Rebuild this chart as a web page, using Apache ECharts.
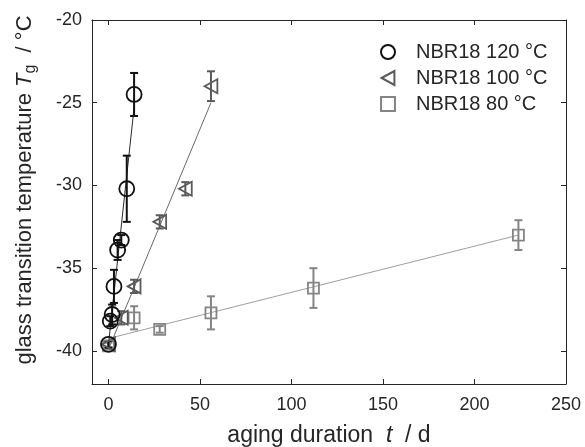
<!DOCTYPE html>
<html>
<head>
<meta charset="utf-8">
<script src="https://cdn.jsdelivr.net/npm/echarts@6/dist/echarts.min.js"></script>
<style>html,body{margin:0;padding:0;background:#fff;}#c{width:585px;height:447px;}</style>
</head>
<body>
<div id="c"></div>
<script>
// ---- data ----
const xTicks = [0, 50, 100, 150, 200, 250];
const yTicks = [-40, -35, -30, -25, -20];

const days120 = [0, 1, 2, 3, 5, 7, 10, 14];
const tg120   = [-39.6, -38.2, -37.8, -36.1, -33.9, -33.3, -30.2, -24.5];
const err120  = [0.2, 0.3, 0.6, 1.0, 0.6, 0.3, 2.0, 1.3];

const days100 = [0, 7, 14, 28, 42, 56];
const tg100   = [-39.6, -38.0, -36.1, -32.2, -30.2, -24.0];
const err100  = [0.2, 0.4, 0.4, 0.4, 0.4, 0.9];

const days80 = [0, 14, 28, 56, 112, 224];
const tg80   = [-39.7, -38.0, -38.7, -37.7, -36.2, -33.0];
const err80  = [0.2, 0.7, 0.2, 1.0, 1.2, 0.9];

// fitted lines (end points)
const fitX120 = [0, 14];   const fitY120 = [-39.6, -25.3];
const fitX100 = [0, 56];   const fitY100 = [-39.9, -25.0];
const fitX80  = [0, 224];  const fitY80  = [-39.25, -33.0];

const names = ['NBR18 120 °C', 'NBR18 100 °C', 'NBR18 80 °C'];

// ---- helpers ----
const zip = (a, b) => a.map((v, i) => [v, b[i]]);
const zip3 = (a, b, c) => a.map((v, i) => [v, b[i], c[i]]);
const FONT = 'Liberation Sans, Arial, Helvetica, sans-serif';
const TXT = '#262626';

function errSeries(data, color, lw) {
  return {
    type: 'custom',
    data: data,
    z: 3,
    silent: true,
    renderItem: function (params, api) {
      const x = api.value(0), y = api.value(1), e = api.value(2);
      const t = api.coord([x, y + e]);
      const b = api.coord([x, y - e]);
      const hw = 4;
      const st = { stroke: color, lineWidth: lw, fill: null };
      return {
        type: 'group',
        children: [
          { type: 'line', shape: { x1: t[0], y1: t[1], x2: b[0], y2: b[1] }, style: st },
          { type: 'line', shape: { x1: t[0] - hw, y1: t[1], x2: t[0] + hw, y2: t[1] }, style: st },
          { type: 'line', shape: { x1: b[0] - hw, y1: b[1], x2: b[0] + hw, y2: b[1] }, style: st }
        ]
      };
    }
  };
}

function fitSeries(xs, ys, color) {
  return {
    type: 'line', data: zip(xs, ys), symbol: 'none', silent: true, z: 2,
    lineStyle: { color: color, width: 1 }
  };
}

function scatter(name, xs, ys, symbol, size, color) {
  return {
    name: name, type: 'scatter', data: zip(xs, ys), symbol: symbol, symbolSize: size,
    symbolKeepAspect: true, z: 4,
    itemStyle: { color: 'rgba(0,0,0,0)', borderColor: color, borderWidth: 1.8, opacity: 1 }
  };
}

const TRI = 'path://M0,6 L11,0 L11,12 Z';

const axisCommonX = {
  type: 'value', min: -9, max: 250,
  axisLine: { show: true, onZero: false, lineStyle: { color: TXT, width: 1 } },
  splitLine: { show: false },
  axisTick: { show: true, inside: true, length: 5, customValues: xTicks, lineStyle: { color: TXT } }
};
const axisCommonY = {
  type: 'value', min: -42, max: -20,
  axisLine: { show: true, onZero: false, lineStyle: { color: TXT, width: 1 } },
  splitLine: { show: false },
  axisTick: { show: true, inside: true, length: 5, customValues: yTicks, lineStyle: { color: TXT } }
};

const option = {
  animation: false,
  backgroundColor: '#ffffff',
  grid: { left: 92, top: 20, right: 19, bottom: 63, containLabel: false, outerBoundsMode: 'none' },
  xAxis: [
    Object.assign({}, axisCommonX, {
      position: 'bottom',
      axisLabel: { customValues: xTicks, margin: 12, fontSize: 18, color: TXT, fontFamily: FONT },
      name: '{a|aging duration  }{i|t}{a|  / d}',
      nameLocation: 'middle', nameGap: 40,
      nameTextStyle: {
        rich: {
          a: { fontSize: 23, color: TXT, fontFamily: FONT },
          i: { fontSize: 23, color: TXT, fontFamily: FONT, fontStyle: 'italic' }
        }
      }
    }),
    Object.assign({}, axisCommonX, { position: 'top', axisLabel: { show: false } })
  ],
  yAxis: [
    Object.assign({}, axisCommonY, {
      position: 'left',
      axisLabel: { customValues: yTicks, margin: 10, fontSize: 18, color: TXT, fontFamily: FONT },
      name: '{a|glass transition temperature }{i|T}{s|g}{a|  / °C}',
      nameLocation: 'middle', nameGap: 53,
      nameTextStyle: {
        padding: [0, 0, 0, 24],
        rich: {
          a: { fontSize: 22, color: TXT, fontFamily: FONT },
          i: { fontSize: 22, color: TXT, fontFamily: FONT, fontStyle: 'italic' },
          s: { fontSize: 16, color: TXT, fontFamily: FONT, padding: [12, 0, 0, 0] }
        }
      }
    }),
    Object.assign({}, axisCommonY, { position: 'right', axisLabel: { show: false } })
  ],
  legend: {
    orient: 'vertical', left: 375, top: 37,
    itemWidth: 14, itemHeight: 14, itemGap: 6,
    data: names,
    textStyle: { fontSize: 20, lineHeight: 20, color: TXT, fontFamily: FONT, padding: [0, 0, 0, 16] },
    selectedMode: false
  },
  series: [
    fitSeries(fitX80, fitY80, '#a0a0a0'),
    fitSeries(fitX100, fitY100, '#6a6a6a'),
    fitSeries(fitX120, fitY120, '#2a2a2a'),
    errSeries(zip3(days80, tg80, err80), '#858585', 2),
    errSeries(zip3(days100, tg100, err100), '#5a5a5a', 2),
    errSeries(zip3(days120, tg120, err120), '#111111', 2),
    scatter(names[2], days80, tg80, 'rect', 11, '#858585'),
    scatter(names[1], days100, tg100, TRI, 14, '#5a5a5a'),
    scatter(names[0], days120, tg120, 'circle', 15, '#111111')
  ]
};

const chart = echarts.init(document.getElementById('c'), null, { renderer: 'canvas' });
chart.setOption(option);
</script>
</body>
</html>
